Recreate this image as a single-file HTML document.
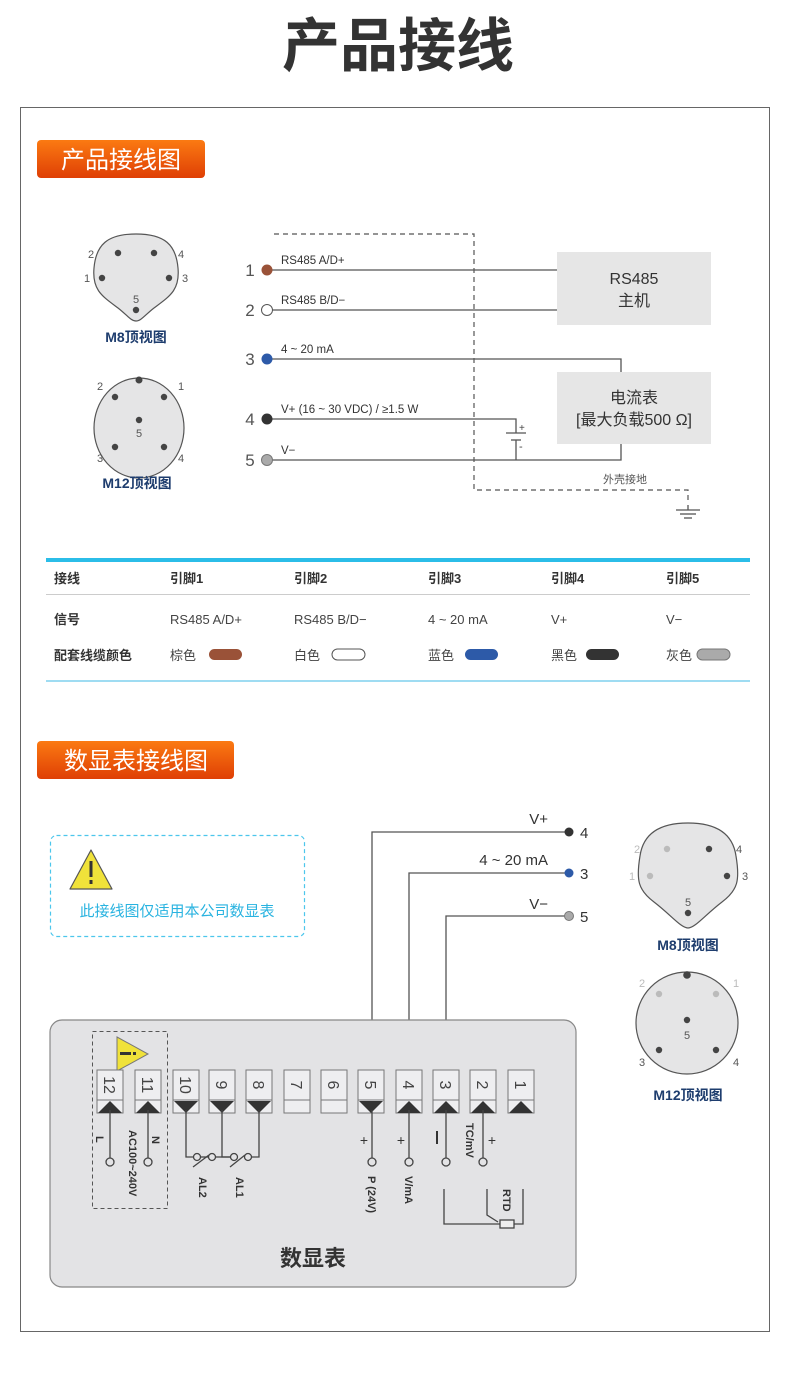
<!DOCTYPE html>
<html><head><meta charset="utf-8"><style>
html,body{margin:0;padding:0;background:#fff;}
svg{display:block;}
text{font-family:"Liberation Sans","Noto Sans CJK SC",sans-serif;}
</style></head><body>
<svg width="790" height="1388" viewBox="0 0 790 1388" xmlns="http://www.w3.org/2000/svg">
<defs>
<linearGradient id="og" x1="0" y1="0" x2="0" y2="1"><stop offset="0" stop-color="#fb7a12"/><stop offset="1" stop-color="#df3f05"/></linearGradient>
</defs>
<text x="398" y="66" text-anchor="middle" font-size="58" font-weight="bold" fill="#333">产品接线</text>
<rect x="20.5" y="107.5" width="749" height="1224" fill="#fff" stroke="#666" stroke-width="1"/>

<!-- badge 1 -->
<rect x="37" y="140" width="168" height="38" rx="4" fill="url(#og)"/>
<text x="121" y="168" text-anchor="middle" font-size="24" fill="#fff">产品接线图</text>

<!-- left connectors -->
<path d="M136,234 C165,234 176,245 178,268 C180,290 170,296 154,308 C145,315 141,321 136,321 C131,321 127,315 118,308 C102,296 92,290 94,268 C96,245 107,234 136,234 Z" fill="#e5e5e6" stroke="#555" stroke-width="1.2"/>
<g fill="#444"><circle cx="118" cy="253" r="3.2"/><circle cx="154" cy="253" r="3.2"/><circle cx="102" cy="278" r="3.2"/><circle cx="169" cy="278" r="3.2"/><circle cx="136" cy="310" r="3.2"/></g>
<g font-size="11" fill="#555" text-anchor="middle"><text x="91" y="258">2</text><text x="181" y="258">4</text><text x="87" y="282">1</text><text x="185" y="282">3</text><text x="136" y="303">5</text></g>
<text x="136" y="342" text-anchor="middle" font-size="14" font-weight="bold" fill="#1e3d6e">M8顶视图</text>
<ellipse cx="139" cy="428" rx="45" ry="50" fill="#e5e5e6" stroke="#555" stroke-width="1.2"/>
<g fill="#444"><circle cx="139" cy="380" r="3.5"/><circle cx="115" cy="397" r="3.2"/><circle cx="164" cy="397" r="3.2"/><circle cx="139" cy="420" r="3.2"/><circle cx="115" cy="447" r="3.2"/><circle cx="164" cy="447" r="3.2"/></g>
<g font-size="11" fill="#555" text-anchor="middle"><text x="100" y="390">2</text><text x="181" y="390">1</text><text x="139" y="437">5</text><text x="100" y="462">3</text><text x="181" y="462">4</text></g>
<text x="137" y="488" text-anchor="middle" font-size="14" font-weight="bold" fill="#1e3d6e">M12顶视图</text>

<!-- wiring diagram 1 -->
<path d="M274,234 H474 V490 H688 V500" fill="none" stroke="#555" stroke-width="1.2" stroke-dasharray="5,4"/>
<g stroke="#555" stroke-width="1.3" fill="none">
<line x1="688" y1="505" x2="688" y2="510"/>
<line x1="676" y1="510" x2="700" y2="510"/><line x1="680" y1="514" x2="696" y2="514"/><line x1="684" y1="518" x2="692" y2="518"/>
<line x1="267" y1="270" x2="557" y2="270"/>
<line x1="267" y1="310" x2="557" y2="310"/>
<path d="M267,359 H621 V372"/>
<path d="M267,419 H516 V433"/>
<path d="M516,440 V460"/>
<path d="M267,460 H621 V444"/>
<line x1="506" y1="433" x2="526" y2="433"/>
<line x1="511" y1="440" x2="521" y2="440"/>
</g>
<text x="519" y="431" font-size="10" fill="#444">+</text><text x="519" y="450" font-size="11" fill="#444">-</text>
<g font-size="17" fill="#555" text-anchor="middle"><text x="250" y="276">1</text><text x="250" y="316">2</text><text x="250" y="365">3</text><text x="250" y="425">4</text><text x="250" y="466">5</text></g>
<circle cx="267" cy="270" r="5.5" fill="#9a5238"/>
<circle cx="267" cy="310" r="5.5" fill="#fff" stroke="#555"/>
<circle cx="267" cy="359" r="5.5" fill="#2d5aa8"/>
<circle cx="267" cy="419" r="5.5" fill="#333"/>
<circle cx="267" cy="460" r="5.5" fill="#aaa" stroke="#777"/>
<g font-size="11.5" fill="#333"><text x="281" y="264">RS485 A/D+</text><text x="281" y="304">RS485 B/D−</text><text x="281" y="353">4 ~ 20 mA</text><text x="281" y="413">V+  (16 ~ 30 VDC) / ≥1.5 W</text><text x="281" y="454">V−</text></g>
<rect x="557" y="252" width="154" height="73" fill="#e6e6e6"/>
<text x="634" y="284" text-anchor="middle" font-size="16" fill="#333">RS485</text>
<text x="634" y="306" text-anchor="middle" font-size="16" fill="#333">主机</text>
<rect x="557" y="372" width="154" height="72" fill="#e6e6e6"/>
<text x="634" y="403" text-anchor="middle" font-size="16" fill="#333">电流表</text>
<text x="634" y="425" text-anchor="middle" font-size="16" fill="#333">[最大负载500 Ω]</text>
<text x="625" y="483" text-anchor="middle" font-size="11" fill="#555">外壳接地</text>

<!-- table -->
<rect x="46" y="558" width="704" height="4" fill="#2bbde8"/>
<g font-size="13" font-weight="bold" fill="#333"><text x="54" y="583">接线</text><text x="170" y="583">引脚1</text><text x="294" y="583">引脚2</text><text x="428" y="583">引脚3</text><text x="551" y="583">引脚4</text><text x="666" y="583">引脚5</text></g>
<rect x="46" y="594" width="704" height="1" fill="#ccc"/>
<text x="54" y="624" font-size="13" font-weight="bold" fill="#333">信号</text>
<g font-size="13" fill="#444"><text x="170" y="624">RS485 A/D+</text><text x="294" y="624">RS485 B/D−</text><text x="428" y="624">4 ~ 20 mA</text><text x="551" y="624">V+</text><text x="666" y="624">V−</text></g>
<text x="54" y="660" font-size="13" font-weight="bold" fill="#333">配套线缆颜色</text>
<g font-size="13" fill="#444"><text x="170" y="660">棕色</text><text x="294" y="660">白色</text><text x="428" y="660">蓝色</text><text x="551" y="660">黑色</text><text x="666" y="660">灰色</text></g>
<rect x="209" y="649" width="33" height="11" rx="5.5" fill="#9a5238"/>
<rect x="332" y="649" width="33" height="11" rx="5.5" fill="#fff" stroke="#555"/>
<rect x="465" y="649" width="33" height="11" rx="5.5" fill="#2d5aa8"/>
<rect x="586" y="649" width="33" height="11" rx="5.5" fill="#333"/>
<rect x="697" y="649" width="33" height="11" rx="5.5" fill="#aaa" stroke="#777"/>
<rect x="46" y="680" width="704" height="2" fill="#9fdcf2"/>

<!-- badge 2 -->
<rect x="37" y="741" width="197" height="38" rx="4" fill="url(#og)"/>
<text x="136" y="769" text-anchor="middle" font-size="24" fill="#fff">数显表接线图</text>

<!-- info box -->
<rect x="50.5" y="835.5" width="254" height="101" rx="6" fill="#fff" stroke="#4cc6ec" stroke-width="1.2" stroke-dasharray="4,3"/>
<path d="M91,850 L112,889 H70 Z" fill="#f0e23a" stroke="#555" stroke-width="1.2" stroke-linejoin="round"/>
<rect x="89.5" y="861" width="3" height="16" fill="#333"/><rect x="89.5" y="880" width="3" height="4" fill="#333"/>
<text x="177" y="916" text-anchor="middle" font-size="15" fill="#29b3e0">此接线图仅适用本公司数显表</text>

<!-- top wires -->
<g stroke="#555" stroke-width="1.3" fill="none">
<path d="M372,1071 V832 H569"/>
<path d="M409,1071 V873 H569"/>
<path d="M446,1071 V916 H569"/>
</g>
<circle cx="569" cy="832" r="4.5" fill="#333"/>
<circle cx="569" cy="873" r="4.5" fill="#2d5aa8"/>
<circle cx="569" cy="916" r="4.5" fill="#aaa" stroke="#777"/>
<g font-size="15" fill="#333"><text x="580" y="838">4</text><text x="580" y="879">3</text><text x="580" y="922">5</text>
<text x="548" y="824" text-anchor="end">V+</text><text x="548" y="865" text-anchor="end">4 ~ 20 mA</text><text x="548" y="909" text-anchor="end">V−</text></g>

<!-- right connectors -->
<path d="M688,823 C718,823 733,835 736,856 C740,880 738,890 722,902 C705,915 695,928 688,928 C681,928 671,915 654,902 C638,890 636,880 640,856 C643,835 658,823 688,823 Z" fill="#e5e5e6" stroke="#555" stroke-width="1.2"/>
<g><circle cx="667" cy="849" r="3.2" fill="#bbb"/><circle cx="709" cy="849" r="3.2" fill="#444"/><circle cx="650" cy="876" r="3.2" fill="#bbb"/><circle cx="727" cy="876" r="3.2" fill="#444"/><circle cx="688" cy="913" r="3.2" fill="#444"/></g>
<g font-size="11" text-anchor="middle"><text x="637" y="853" fill="#bbb">2</text><text x="739" y="853" fill="#555">4</text><text x="632" y="880" fill="#bbb">1</text><text x="745" y="880" fill="#555">3</text><text x="688" y="906" fill="#555">5</text></g>
<text x="688" y="950" text-anchor="middle" font-size="14" font-weight="bold" fill="#1e3d6e">M8顶视图</text>
<circle cx="687" cy="1023" r="51" fill="#e5e5e6" stroke="#555" stroke-width="1.2"/>
<g><circle cx="687" cy="975" r="3.8" fill="#444"/><circle cx="659" cy="994" r="3.2" fill="#bbb"/><circle cx="716" cy="994" r="3.2" fill="#bbb"/><circle cx="687" cy="1020" r="3.2" fill="#444"/><circle cx="659" cy="1050" r="3.2" fill="#444"/><circle cx="716" cy="1050" r="3.2" fill="#444"/></g>
<g font-size="11" text-anchor="middle"><text x="642" y="987" fill="#bbb">2</text><text x="736" y="987" fill="#bbb">1</text><text x="687" y="1039" fill="#555">5</text><text x="642" y="1066" fill="#555">3</text><text x="736" y="1066" fill="#555">4</text></g>
<text x="688" y="1100" text-anchor="middle" font-size="14" font-weight="bold" fill="#1e3d6e">M12顶视图</text>

<!-- meter -->
<rect x="50" y="1020" width="526" height="267" rx="12" fill="#e3e3e5" stroke="#888" stroke-width="1.2"/>
<rect x="92.5" y="1031.5" width="75" height="177" fill="none" stroke="#555" stroke-width="1" stroke-dasharray="4,3"/>
<path d="M117,1037 L148,1054 L117,1071 Z" fill="#f0e23a" stroke="#777" stroke-width="1"/>
<rect x="120" y="1052" width="11" height="3" fill="#333"/><rect x="133" y="1052" width="3" height="3" fill="#333"/>

<g stroke="#777" stroke-width="1" fill="#eeeef0">
<rect x="97" y="1070" width="26" height="43"/><rect x="135" y="1070" width="26" height="43"/><rect x="173" y="1070" width="26" height="43"/><rect x="209" y="1070" width="26" height="43"/><rect x="246" y="1070" width="26" height="43"/><rect x="284" y="1070" width="26" height="43"/><rect x="321" y="1070" width="26" height="43"/><rect x="358" y="1070" width="26" height="43"/><rect x="396" y="1070" width="26" height="43"/><rect x="433" y="1070" width="26" height="43"/><rect x="470" y="1070" width="26" height="43"/><rect x="508" y="1070" width="26" height="43"/>
</g>
<g stroke="#777" stroke-width="1">
<line x1="97" y1="1100" x2="123" y2="1100"/><line x1="135" y1="1100" x2="161" y2="1100"/><line x1="173" y1="1100" x2="199" y2="1100"/><line x1="209" y1="1100" x2="235" y2="1100"/><line x1="246" y1="1100" x2="272" y2="1100"/><line x1="284" y1="1100" x2="310" y2="1100"/><line x1="321" y1="1100" x2="347" y2="1100"/><line x1="358" y1="1100" x2="384" y2="1100"/><line x1="396" y1="1100" x2="422" y2="1100"/><line x1="433" y1="1100" x2="459" y2="1100"/><line x1="470" y1="1100" x2="496" y2="1100"/><line x1="508" y1="1100" x2="534" y2="1100"/>
</g>
<g fill="#333">
<path d="M98,1113 L110,1101 L122,1113 Z"/><path d="M136,1113 L148,1101 L160,1113 Z"/>
<path d="M174,1101 L186,1113 L198,1101 Z"/><path d="M210,1101 L222,1113 L234,1101 Z"/><path d="M247,1101 L259,1113 L271,1101 Z"/>
<path d="M359,1101 L371,1113 L383,1101 Z"/>
<path d="M397,1113 L409,1101 L421,1113 Z"/><path d="M434,1113 L446,1101 L458,1113 Z"/><path d="M471,1113 L483,1101 L495,1113 Z"/><path d="M509,1113 L521,1101 L533,1113 Z"/>
</g>
<g font-size="16" fill="#444">
<text transform="translate(104,1085) rotate(90)" text-anchor="middle">12</text>
<text transform="translate(142,1085) rotate(90)" text-anchor="middle">11</text>
<text transform="translate(180,1085) rotate(90)" text-anchor="middle">10</text>
<text transform="translate(216,1085) rotate(90)" text-anchor="middle">9</text>
<text transform="translate(253,1085) rotate(90)" text-anchor="middle">8</text>
<text transform="translate(291,1085) rotate(90)" text-anchor="middle">7</text>
<text transform="translate(328,1085) rotate(90)" text-anchor="middle">6</text>
<text transform="translate(365,1085) rotate(90)" text-anchor="middle">5</text>
<text transform="translate(403,1085) rotate(90)" text-anchor="middle">4</text>
<text transform="translate(440,1085) rotate(90)" text-anchor="middle">3</text>
<text transform="translate(477,1085) rotate(90)" text-anchor="middle">2</text>
<text transform="translate(515,1085) rotate(90)" text-anchor="middle">1</text>
</g>
<g stroke="#444" stroke-width="1.3" fill="none">
<line x1="110" y1="1110" x2="110" y2="1158"/><line x1="148" y1="1110" x2="148" y2="1158"/>
<line x1="372" y1="1110" x2="372" y2="1158"/><line x1="409" y1="1110" x2="409" y2="1158"/><line x1="446" y1="1110" x2="446" y2="1158"/><line x1="483" y1="1110" x2="483" y2="1158"/>
<path d="M186,1110 V1157 H193"/><path d="M201,1157 H208"/>
<path d="M222,1110 V1157 H230"/><path d="M216,1157 H230"/>
<path d="M259,1110 V1157 H252"/>
<line x1="193" y1="1167" x2="209" y2="1155"/><line x1="230" y1="1167" x2="245" y2="1155"/>
<circle cx="110" cy="1162" r="4" fill="#e3e3e5"/><circle cx="148" cy="1162" r="4" fill="#e3e3e5"/>
<circle cx="372" cy="1162" r="4" fill="#e3e3e5"/><circle cx="409" cy="1162" r="4" fill="#e3e3e5"/><circle cx="446" cy="1162" r="4" fill="#e3e3e5"/><circle cx="483" cy="1162" r="4" fill="#e3e3e5"/>
<circle cx="197" cy="1157" r="3.5" fill="#e3e3e5"/><circle cx="212" cy="1157" r="3.5" fill="#e3e3e5"/><circle cx="234" cy="1157" r="3.5" fill="#e3e3e5"/><circle cx="248" cy="1157" r="3.5" fill="#e3e3e5"/>
<path d="M444,1189 V1224 H500"/><path d="M523,1189 V1224 H514"/><path d="M487,1189 V1215 L498,1222"/>
<rect x="500" y="1220" width="14" height="8" fill="#eee"/>
</g>
<g font-size="11" font-weight="bold" fill="#333">
<text transform="translate(96,1136) rotate(90)">L</text>
<text transform="translate(152,1136) rotate(90)">N</text>
<text transform="translate(129,1130) rotate(90)">AC100~240V</text>
<text transform="translate(199,1177) rotate(90)">AL2</text>
<text transform="translate(236,1177) rotate(90)">AL1</text>
<text transform="translate(368,1176) rotate(90)">P (24V)</text>
<text transform="translate(405,1176) rotate(90)">V/mA</text>
<text transform="translate(466,1123) rotate(90)">TC/mV</text>
<text transform="translate(503,1189) rotate(90)">RTD</text>
</g>
<g font-size="14" fill="#333" text-anchor="middle"><text x="364" y="1145">+</text><text x="401" y="1145">+</text><text x="492" y="1145">+</text></g>
<rect x="436" y="1131" width="2" height="13" fill="#333"/>
<text x="313" y="1266" text-anchor="middle" font-size="22" font-weight="bold" fill="#333">数显表</text>
</svg>
</body></html>
